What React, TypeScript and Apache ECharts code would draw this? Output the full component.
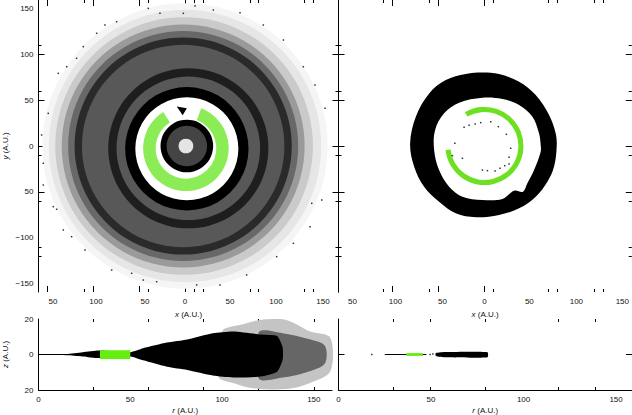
import React, { useEffect, useRef } from "react";
import * as echarts from "echarts";

// ---- (all in A.U.) ----
// Left face-on panel: density bands, outermost first: centre x, centre y, outer radius
const faceBands = [
  [0, 0, 155], [0, 0, 148], [-1, 0, 140], [-2, 0, 132], [-2, 0, 125], [-2, 0, 118], [-2, 0, 110],
  [3.6, -2.5, 87], [3.6, -2.5, 78], [2, -3, 67], [2, -3, 56],
];
const faceBandShades = ["#f5f5f5", "#e6e6e6", "#cacaca", "#9a9a9a", "#686868", "#2a2a2a", "#585858", "#1e1e1e", "#585858", "#000000", "#ffffff"];
const innerBands = [[2, 0, 28.6], [2, 0, 22], [1, 0, 8]];
const innerBandShades = ["#000000", "#444444", "#e4e4e4"];
const wedge = [[-9, 43], [2, 41], [-2.5, 33.5]];
const sparseLeft = [
  [-154, -42.4], [-143.1, -65.9], [-139.5, -68.8], [-132.2, -91.3], [-123.2, -98.6], [-108.7, -113], [-79.7, -134.8],
  [-58, -138.4], [-45.3, -145.7], [-30.8, -147.5], [12.7, -151], [38, -151], [67, -140.2], [99.6, -120.3],
  [117.8, -105.8], [135.9, -87.7], [148.6, -58.7], [137.7, -62.3], [152.2, 40.9], [141.3, 66.3], [128.6, 86.2],
  [106.9, 115.2], [85.1, 131.5], [59.8, 144.9], [30.8, 147.8], [10.9, 152.2], [-1.8, 144.2], [-27.2, 144.2],
  [-39.9, 149.6], [-74.3, 135.1], [-87, 131.5], [-96, 122.5], [-110.5, 108], [-117.8, 95.3], [-128.6, 86.2],
  [-137.7, 79], [-148.6, 35.5], [-155.8, 12], [-154, -18.8],
];
// Green arcs: centre x, centre y, inner radius, outer radius, start (deg), end (deg), swept clockwise
const greenArcLeft = [1, -2.5, 33, 46.5, 69, 122];
const greenArcRight = [0, 0, 37, 42.5, 120, 186];

// Right face-on panel: ring outlines
const ringOuter = [
  [-2.2, 80], [15.9, 78.3], [37.7, 69.9], [55.8, 55.4], [70.3, 33.7], [77.5, 13.8], [78.6, -0.7], [75.7, -22.5],
  [68.5, -38.8], [55.8, -55.1], [37.7, -67.8], [15.9, -75], [-9.4, -77.5], [-31.2, -73.2], [-49.3, -60.5],
  [-65.6, -44.2], [-76.4, -22.5], [-80.8, 2.9], [-74.6, 31.9], [-60.1, 57.2], [-42, 71.7], [-20.3, 78.3],
];
const ringInner = [
  [-2.2, 52.5], [19.6, 51.1], [37.7, 44.6], [52.2, 31.9], [59.4, 13.8], [61.2, 1.1], [61.2, -6.2], [54, -26.1],
  [46.7, -40.6], [42, -49.6], [32.2, -48.6], [19.6, -57.6], [-2.2, -58.7], [-23.9, -55.1], [-38.4, -44.2],
  [-49.3, -26.1], [-54.7, -4.3], [-53.6, 17.4], [-43.8, 35.5], [-27.5, 47.1],
];
const sparseRight = [
  [-22.1, 20.3], [-16.7, 22.5], [-10.1, 23.9], [-4, 25.4], [6.9, 26.4], [15.2, 21], [23.9, 12.7], [-32.2, 2.9],
  [-34.8, -10.5], [-23.9, -13.4], [28.6, -2.5], [26.8, -12.3], [-2.2, -26.1], [3.3, -26.8], [11.6, -27.2],
  [17, -24.3], [22.1, -21.4], [26.8, -19.6],
];

// Edge-on panels: r, z outlines
const edgeHaloOuter = [
  [100, 13], [110, 16.7], [121, 19.5], [135, 19.5], [148, 13], [159, 9.5], [159, -9.5], [148, -16], [135, -19.5],
  [117, -19], [106, -16], [98, -12.5],
];
const edgeHaloInner = [
  [120, 12.5], [133, 12], [146, 9], [156, 5], [156, -5], [146, -10], [133, -13], [120, -13.5],
];
const edgeDense = [
  [0, 0.2], [15, 0.3], [24, 1.3], [33, 2.2], [50, 1.3], [57, 3.5], [70, 6.7], [81, 8.5], [95, 12], [106, 13],
  [121, 11.3], [130, 10.4], [133, 4], [133, -3], [130, -9.7], [121, -12.4], [106, -12.9], [95, -11.8], [81, -8.7],
  [70, -6.9], [57, -3.3], [50, -1.1], [33, -2], [24, -1.1], [15, -0.4], [0, -0.2],
];
const edgeGreenLeft = [[33.5, 2.4], [50, 2.4], [50, -2.6], [33.5, -2.6]];
const edgeBlackRight = [[52.6, 0.8], [58, 1.4], [80.5, 1.3], [80.5, -1.5], [58, -1.6], [52.6, -0.8]];
const edgeGreenRight = [[36.6, 0.8], [45.6, 0.8], [45.6, -0.8], [36.6, -0.8]];
const edgeThinRight = [[25, 0], [36.6, 0]];
const edgeThinRight2 = [[45.6, 0], [47.5, 0]];
const edgeDotsRight = [[18, 0], [49.5, 0], [51, 0.3]];
const edgeThinLeft = [[0, 0], [15, 0]];

// Axis ticks and labels
const xLongLeft = [-150, -100, -50, 0];
const xShortLeft = [-109.8, -40.2, 9.8, 19.6, 70.7, 79.3, 129.3, 139.1];
const xLongRight = [-100, -50, 0];
const xShortRight = [-109.8, -59.8, 9.8, 69.5, 79.3, 119.6, 129.3];
const yLong = [100, 50, 0, -50];
const yShort = [109.8, 59.8, -9.8, -59.8, -109.8, -119.6];
const xLabelAtLeft = [-143.5, -96.7, -43.5, 0, 48.9, 98.9, 150];
const xLabelAtRight = [-143.5, -96.7, -45.7, 0, 48.9, 100, 150];
const xLabelText = ["50", "100", "50", "0", "50", "100", "150"];
const yLabelAt = [149, 100, 50, 0, -50, -100, -150];
const yLabelText = ["150", "100", "50", "0", "50", "\u2212100", "\u2212150"];
const rTicksLeft = [29.6, 59.6, 89.6, 119.6, 150];
const rTicksRight = [29.6, 49.6, 79.3, 118.8, 138.7];
const rLabels = [0, 50, 100, 150];
const zLabels = [20, 0, -20];

const FONT = "Liberation Sans";
const INK = "#111111";

const labelStyle = { fontFamily: FONT, fontSize: 8, color: INK };
const nameStyle = {
  fontFamily: FONT, fontSize: 8, color: INK,
  rich: { i: { fontFamily: FONT, fontSize: 8, color: INK, fontStyle: "italic" } },
};

function axis(kind: "x" | "y", grid: number, pos: string, min: number, max: number, ticks: number[], len: number, extra: any = {}) {
  return {
    type: "value", gridIndex: grid, position: pos, min, max, scale: false,
    splitLine: { show: false },
    axisLine: { show: !!extra.line, onZero: false, lineStyle: { color: "#000", width: 1 } },
    axisTick: { show: ticks.length > 0, inside: true, length: len, customValues: ticks, lineStyle: { color: "#000", width: 1 } },
    axisLabel: extra.labelAt
      ? {
          show: true, customValues: extra.labelAt, margin: 5, ...labelStyle, hideOverlap: false,
          showMinLabel: true, showMaxLabel: true,
          formatter: (v: number) => {
            const i = extra.labelAt.indexOf(v);
            return extra.labelText ? extra.labelText[i] : String(v);
          },
        }
      : { show: false },
    ...(extra.name
      ? { name: extra.name, nameLocation: "middle", nameGap: extra.nameGap, nameRotate: kind === "y" ? 90 : 0, nameTextStyle: nameStyle }
      : {}),
  };
}

function polygon(x: number, y: number, pts: number[][], fill: string, z = 2, smooth = 0) {
  return {
    type: "custom", xAxisIndex: x, yAxisIndex: y, coordinateSystem: "cartesian2d", silent: true, z, clip: true,
    data: pts,
    renderItem: (params: any, api: any) =>
      params.dataIndex === 0
        ? { type: "polygon", shape: { points: pts.map((p) => api.coord(p)), smooth }, style: { fill, stroke: null } }
        : null,
  };
}

function discs(x: number, y: number, rows: number[][], shades: string[], z = 2) {
  return {
    type: "custom", xAxisIndex: x, yAxisIndex: y, coordinateSystem: "cartesian2d", silent: true, z,
    data: rows,
    renderItem: (params: any, api: any) => {
      const c = api.coord([api.value(0), api.value(1)]);
      const r = api.size([api.value(2), 0])[0];
      return { type: "circle", shape: { cx: c[0], cy: c[1], r }, style: { fill: shades[params.dataIndex], stroke: null } };
    },
  };
}

function arc(x: number, y: number, row: number[], fill: string, z = 3) {
  return {
    type: "custom", xAxisIndex: x, yAxisIndex: y, coordinateSystem: "cartesian2d", silent: true, z,
    data: [row],
    renderItem: (_: any, api: any) => {
      const c = api.coord([api.value(0), api.value(1)]);
      const r0 = api.size([api.value(2), 0])[0];
      const r = api.size([api.value(3), 0])[0];
      const start = (-api.value(4) * Math.PI) / 180;
      const end = ((360 - api.value(5)) * Math.PI) / 180;
      return { type: "sector", shape: { cx: c[0], cy: c[1], r0, r, startAngle: start, endAngle: end, clockwise: true }, style: { fill, stroke: null } };
    },
  };
}

function dots(x: number, y: number, pts: number[][], size = 1.5) {
  return {
    type: "scatter", xAxisIndex: x, yAxisIndex: y, data: pts, symbol: "rect", symbolSize: size,
    itemStyle: { color: "#000" }, silent: true, z: 4,
  };
}

function thin(x: number, y: number, pts: number[][]) {
  return {
    type: "line", xAxisIndex: x, yAxisIndex: y, data: pts, symbol: "none", silent: true, z: 4,
    lineStyle: { color: "#000", width: 1 },
  };
}

const G = [
  { left: 38.5, top: 0, width: 300, height: 292 },
  { left: 338.5, top: 0, width: 293.5, height: 292 },
  { left: 38.5, top: 319, width: 293.5, height: 73 },
  { left: 338.5, top: 319, width: 293.5, height: 73 },
];

function buildOption() {
  const xAxis: any[] = [
    axis("x", 0, "bottom", -159.2, 166.8, xLongLeft, 6, { labelAt: xLabelAtLeft, labelText: xLabelText, name: "{i|x} (A.U.)", nameGap: 18 }),
    axis("x", 0, "bottom", -159.2, 166.8, xShortLeft, 3),
    axis("x", 0, "top", -159.2, 166.8, xLongLeft, 6),
    axis("x", 0, "top", -159.2, 166.8, xShortLeft, 3),
    axis("x", 1, "bottom", -158.7, 160.3, xLongRight, 6, { labelAt: xLabelAtRight, labelText: xLabelText, name: "{i|x} (A.U.)", nameGap: 18 }),
    axis("x", 1, "bottom", -158.7, 160.3, xShortRight, 3),
    axis("x", 1, "top", -158.7, 160.3, xLongRight, 6),
    axis("x", 1, "top", -158.7, 160.3, xShortRight, 3),
    axis("x", 2, "bottom", 0, 159.9, rTicksLeft, 3, { line: true, labelAt: rLabels, name: "{i|r} (A.U.)", nameGap: 16 }),
    axis("x", 2, "top", 0, 159.9, rTicksLeft, 3),
    axis("x", 3, "bottom", 0, 158.6, rTicksRight, 3, { line: true, labelAt: rLabels, name: "{i|r} (A.U.)", nameGap: 16 }),
    axis("x", 3, "top", 0, 158.6, rTicksRight, 3),
  ];
  const yAxis: any[] = [
    axis("y", 0, "left", -158.7, 158.7, yLong, 6, { line: true, labelAt: yLabelAt, labelText: yLabelText, name: "{i|y} (A.U.)", nameGap: 29 }),
    axis("y", 0, "left", -158.7, 158.7, yShort, 3),
    axis("y", 0, "right", -158.7, 158.7, yLong, 6, { line: true }),
    axis("y", 0, "right", -158.7, 158.7, yShort, 3),
    axis("y", 1, "left", -158.7, 158.7, yLong, 6, { line: true }),
    axis("y", 1, "left", -158.7, 158.7, yShort, 3),
    axis("y", 1, "right", -158.7, 158.7, yLong, 6),
    axis("y", 1, "right", -158.7, 158.7, yShort, 3),
    axis("y", 2, "left", -20, 20, [0], 5, { line: true, labelAt: zLabels, labelText: ["20", "0", "20"], name: "{i|z} (A.U.)", nameGap: 29 }),
    axis("y", 3, "left", -20, 20, [0], 6, { line: true }),
    axis("y", 3, "right", -20, 20, [0], 6),
  ];
  const series: any[] = [
    discs(0, 0, faceBands, faceBandShades, 2),
    arc(0, 0, greenArcLeft, "#8cec55", 3),
    discs(0, 0, innerBands, innerBandShades, 4),
    polygon(0, 0, wedge, "#000", 4),
    dots(0, 0, sparseLeft),

    polygon(4, 4, ringOuter, "#000", 2, 0.35),
    polygon(4, 4, ringInner, "#fff", 3, 0.35),
    arc(4, 4, greenArcRight, "#6ee022", 4),
    dots(4, 4, sparseRight),

    polygon(8, 8, edgeHaloOuter, "#c4c4c4", 2, 0.3),
    polygon(8, 8, edgeHaloInner, "#666666", 2.5, 0.3),
    polygon(8, 8, edgeDense, "#000", 3, 0.2),
    polygon(8, 8, edgeGreenLeft, "#66ee11", 4),
    thin(8, 8, edgeThinLeft),

    polygon(10, 9, edgeBlackRight, "#000", 3, 0.2),
    polygon(10, 9, edgeGreenRight, "#66ee11", 4),
    thin(10, 9, edgeThinRight),
    thin(10, 9, edgeThinRight2),
    dots(10, 9, edgeDotsRight),
  ];
  return { animation: false, backgroundColor: "#fff", grid: G, xAxis, yAxis, series };
}

export default function App() {
  const ref = useRef<HTMLDivElement>(null);
  useEffect(() => {
    const chart = echarts.init(ref.current!, undefined, { renderer: "svg" });
    chart.setOption(buildOption() as any);
    return () => chart.dispose();
  }, []);
  return <div ref={ref} style={{ position: "fixed", left: 0, top: 0, width: 632, height: 415 }} />;
}
